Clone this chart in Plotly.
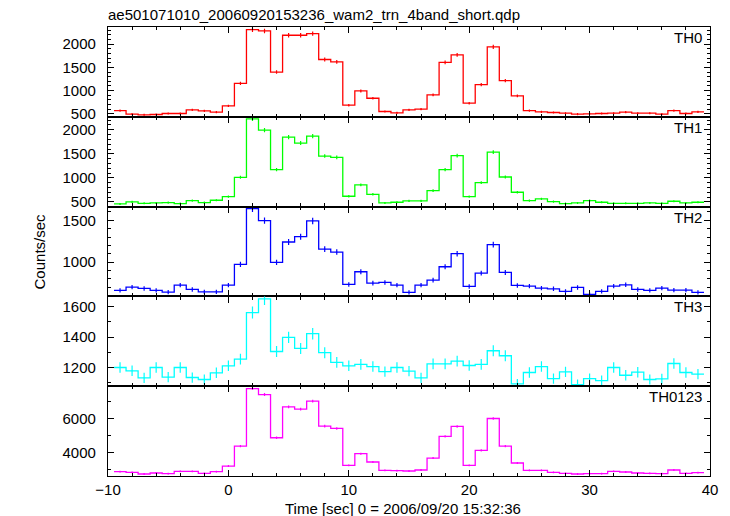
import numpy as np
import plotly.graph_objects as go
from plotly.subplots import make_subplots

# Bin centres (sec), 1 s bins
time_sec = list(range(-9, 40))

th0 = [571, 493, 478, 486, 507, 507, 586, 564, 536, 671, 1157, 2314, 2286, 1400, 2193, 2193, 2229,
       1671, 1621, 686, 993, 836, 550, 521, 586, 600, 907, 1607, 1771, 729, 1129, 1943, 1214, 886,
       571, 543, 529, 514, 493, 500, 507, 514, 536, 514, 514, 493, 571, 507, 543]
th1 = [458, 499, 471, 478, 485, 465, 527, 485, 534, 610, 1011, 2228, 1993, 1170, 1848, 1723, 1869,
       1454, 1426, 617, 852, 658, 478, 492, 520, 520, 734, 1170, 1461, 610, 900, 1537, 1018, 700,
       527, 561, 506, 465, 478, 527, 492, 471, 471, 471, 478, 471, 513, 478, 492]
th2 = [660, 700, 684, 660, 640, 724, 672, 644, 644, 724, 972, 1640, 1496, 996, 1240, 1304, 1492,
       1156, 1120, 732, 884, 748, 756, 724, 636, 724, 784, 944, 1100, 708, 868, 1208, 876, 720,
       712, 688, 680, 648, 696, 612, 648, 712, 728, 672, 660, 688, 664, 664, 636]
th3 = [1200, 1178, 1132, 1200, 1136, 1200, 1134, 1121, 1165, 1211, 1255, 1561, 1651, 1305, 1398,
       1325, 1422, 1297, 1233, 1211, 1220, 1206, 1173, 1200, 1176, 1132, 1224, 1224, 1242, 1213,
       1220, 1310, 1277, 1092, 1167, 1206, 1127, 1171, 1088, 1127, 1114, 1200, 1149, 1169, 1121,
       1125, 1226, 1167, 1156]
th0123 = [2861, 2822, 2724, 2783, 2744, 2881, 2881, 2763, 2861, 3194, 4370, 7761, 7409, 4860, 6683,
          6546, 7016, 5546, 5409, 3234, 3920, 3430, 2940, 2920, 2900, 2959, 3665, 4939, 5527, 3234,
          4116, 5997, 4370, 3371, 2940, 2940, 2822, 2763, 2724, 2744, 2744, 2881, 2842, 2783, 2763,
          2744, 2959, 2763, 2803]

band_names = ["TH0", "TH1", "TH2", "TH3", "TH0123"]
band_values = [th0, th1, th2, th3, th0123]
band_colors = ["#ff0000", "#00ff00", "#0000ff", "#00ffff", "#ff00ff"]
y_ranges = [[436, 2371], [402, 2270], [589, 1664], [1077, 1667], [2606, 7900]]
y_dticks = [500, 500, 500, 200, 2000]
y_minor = [100, 100, 100, 100, 1000]

title_text = "ae501071010_20060920153236_wam2_trn_4band_short.qdp"
x_title = "Time [sec] 0 = 2006/09/20 15:32:36"
y_title = "Counts/sec"

FONT = "Liberation Sans"
FS = 15

fig = make_subplots(rows=5, cols=1, shared_xaxes=True, vertical_spacing=0)

edges = [t - 0.5 for t in time_sec] + [time_sec[-1] + 0.5]
for i, (name, vals, col) in enumerate(zip(band_names, band_values, band_colors)):
    r = i + 1
    fig.add_trace(go.Scatter(x=edges, y=list(vals) + [vals[-1]], mode="lines",
                             line=dict(color=col, width=1.3, shape="hv"),
                             showlegend=False, hoverinfo="skip"), row=r, col=1)
    err = np.sqrt(np.array(vals, dtype=float))
    fig.add_trace(go.Scatter(x=time_sec, y=vals, mode="markers",
                             marker=dict(size=1, color=col),
                             error_y=dict(type="data", array=err, thickness=1.2, width=0, color=col),
                             showlegend=False, hoverinfo="skip"), row=r, col=1)
    fig.update_yaxes(range=y_ranges[i], dtick=y_dticks[i], tick0=0,
                     minor=dict(dtick=y_minor[i], ticklen=3, ticks="inside", tickcolor="black"),
                     row=r, col=1)
    fig.update_xaxes(range=[-10, 40], dtick=10, tick0=0,
                     minor=dict(dtick=2, ticklen=3, ticks="inside", tickcolor="black"),
                     showticklabels=(r == 5), row=r, col=1)
    yd = fig.layout["yaxis" + ("" if r == 1 else str(r))].domain
    fig.add_annotation(text=name, xref="paper", yref="paper", x=1, y=yd[1],
                       xanchor="right", yanchor="top", xshift=-6, yshift=0, showarrow=False,
                       font=dict(family=FONT, size=FS, color="black"))

fig.update_xaxes(showline=True, linecolor="black", linewidth=1.3, mirror="ticks",
                 ticks="inside", ticklen=6, tickcolor="black", tickwidth=1,
                 showgrid=False, zeroline=False,
                 tickfont=dict(family=FONT, size=FS, color="black"), ticklabelstandoff=0)
fig.update_yaxes(showline=True, linecolor="black", linewidth=1.3, mirror="ticks",
                 ticks="inside", ticklen=6, tickcolor="black", tickwidth=1,
                 showgrid=False, zeroline=False,
                 tickfont=dict(family=FONT, size=FS, color="black"), ticklabelstandoff=8)

fig.add_annotation(text=title_text, xref="paper", yref="paper", x=0, y=1,
                   xanchor="left", yanchor="bottom", xshift=-2, yshift=2, showarrow=False,
                   font=dict(family=FONT, size=FS, color="black"))
fig.add_annotation(text=x_title, xref="paper", yref="paper", x=0.49, y=0,
                   xanchor="center", yanchor="top", yshift=-22, showarrow=False,
                   font=dict(family=FONT, size=FS, color="black"))
fig.add_annotation(text=y_title, xref="paper", yref="paper", x=-0.113, y=0.5,
                   xanchor="center", yanchor="middle", textangle=-90, showarrow=False,
                   font=dict(family=FONT, size=FS, color="black"))

fig.update_layout(width=730, height=516, margin=dict(l=108, r=20, t=27, b=40),
                  plot_bgcolor="white", paper_bgcolor="white",
                  font=dict(family=FONT, size=FS, color="black"))

fig.write_html("out.html", config={"displayModeBar": False},
               post_script="document.body.style.margin='0';document.body.style.overflow='hidden';")
